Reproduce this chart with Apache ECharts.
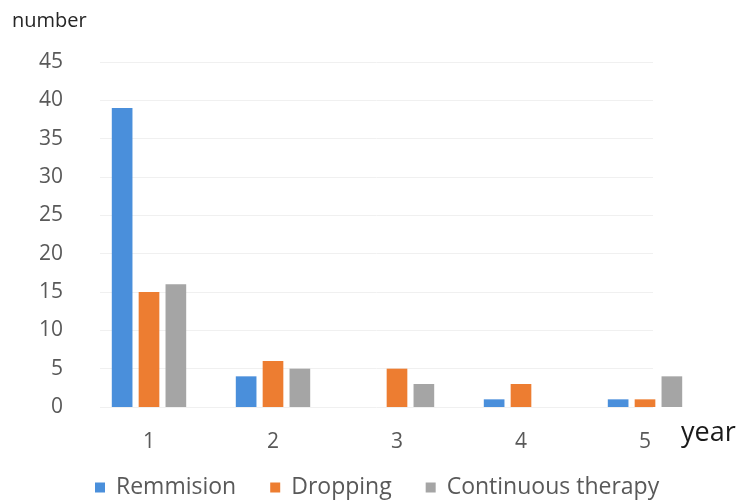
<!DOCTYPE html>
<html>
<head>
<meta charset="utf-8">
<script src="https://cdn.jsdelivr.net/npm/echarts@6/dist/echarts.min.js"></script>
<style>
  html, body { margin: 0; padding: 0; background: #fff; }
  #chart { width: 738px; height: 500px; }
</style>
</head>
<body>
<div id="chart"></div>
<script>
// Outcome counts per follow-up year
const years = ['1', '2', '3', '4', '5'];
const remmision = [39, 4, 0, 1, 1];
const dropping = [15, 6, 5, 3, 1];
const continuousTherapy = [16, 5, 3, 0, 4];
const yTicks = { min: 0, max: 45, interval: 5 };

const FONT = '"Open Sans", "Noto Sans", sans-serif';
const chart = echarts.init(document.getElementById('chart'), null, { renderer: 'canvas' });

function barSeries(name, data, color) {
  return {
    name: name,
    type: 'bar',
    xAxisIndex: 0,
    yAxisIndex: 0,
    data: data.map(v => (v === 0 ? null : v)),
    itemStyle: { color: color },
    barGap: '30%',
    barCategoryGap: '40%'
  };
}

chart.setOption({
  backgroundColor: '#ffffff',
  animation: false,
  textStyle: { fontFamily: FONT },
  grid: [
    { left: 87, right: 31, top: 62, bottom: 93 },
    // light horizontal guides behind the bars
    { left: 100, right: 85, top: 62, bottom: 93 }
  ],
  xAxis: [
    {
      type: 'category',
      gridIndex: 0,
      data: years,
      axisLine: { show: false },
      axisTick: { show: false },
      axisLabel: { color: '#595959', fontSize: 21, margin: 25, fontFamily: FONT }
    },
    { type: 'category', gridIndex: 1, data: years, show: false }
  ],
  yAxis: [
    {
      type: 'value',
      gridIndex: 0,
      min: yTicks.min,
      max: yTicks.max,
      interval: yTicks.interval,
      splitLine: { show: false },
      axisLine: { show: false },
      axisTick: { show: false },
      axisLabel: { color: '#595959', fontSize: 21, margin: 24, fontFamily: FONT }
    },
    {
      type: 'value',
      gridIndex: 1,
      min: yTicks.min,
      max: yTicks.max,
      interval: yTicks.interval,
      axisLine: { show: false },
      axisTick: { show: false },
      axisLabel: { show: false },
      splitLine: { lineStyle: { color: '#f0f0f0', width: 1 } }
    }
  ],
  legend: {
    top: 471,
    left: 90,
    itemWidth: 10,
    itemHeight: 10,
    itemGap: 34,
    icon: 'rect',
    textStyle: { color: '#595959', fontSize: 23, fontFamily: FONT, padding: [0, 0, 0, 6] },
    data: ['Remmision', 'Dropping', 'Continuous therapy']
  },
  graphic: [
    {
      type: 'text',
      left: 12,
      top: 11,
      style: { text: 'number', fill: '#262626', font: '20px ' + FONT }
    },
    {
      type: 'text',
      left: 681,
      top: 420,
      style: { text: 'year', fill: '#1a1a1a', font: '27px ' + FONT }
    }
  ],
  series: [
    barSeries('Remmision', remmision, '#4A8FDB'),
    barSeries('Dropping', dropping, '#ED7D31'),
    barSeries('Continuous therapy', continuousTherapy, '#A5A5A5')
  ]
});
</script>
</body>
</html>
